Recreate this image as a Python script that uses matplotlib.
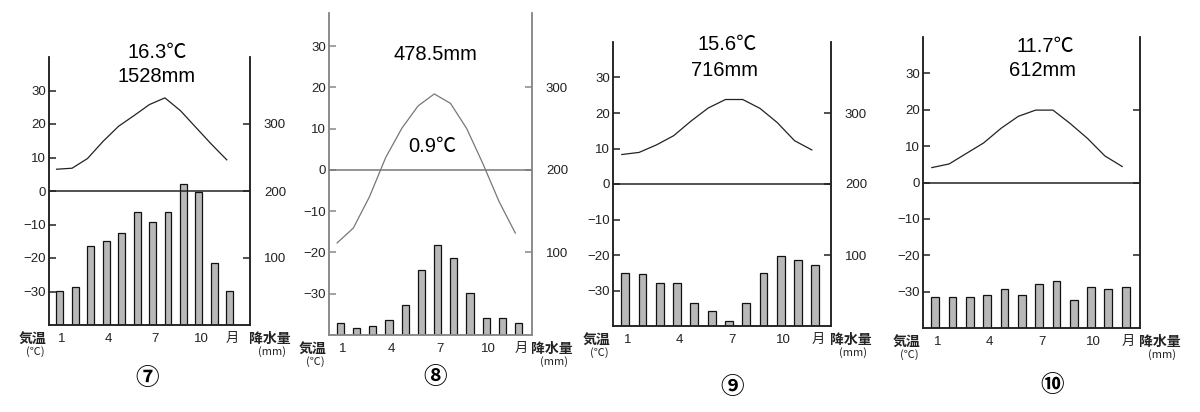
import matplotlib
matplotlib.use("Agg")
import matplotlib.pyplot as plt
import numpy as np

plt.rcParams['font.family'] = ['Liberation Sans', 'Noto Sans CJK JP', 'DejaVu Sans']
plt.rcParams['axes.unicode_minus'] = True

months = np.arange(1, 13)
month_ticks = [1, 4, 7, 10, 12]
month_labels = ['1', '4', '7', '10', '月']

temp7 = [6.5, 6.8, 9.7, 14.8, 19.3, 22.5, 25.8, 27.8, 24.0, 19.0, 14.0, 9.3]
prec7 = [51, 56, 118, 125, 138, 168, 154, 169, 211, 198, 92, 51]
temp8 = [-17.7, -14.1, -6.5, 3.0, 10.1, 15.5, 18.4, 16.1, 10.0, 1.5, -7.7, -15.3]
prec8 = [14, 8, 11, 18, 36, 79, 109, 93, 51, 20, 20, 15]
temp9 = [8.3, 8.9, 11.0, 13.6, 17.7, 21.4, 23.8, 23.8, 21.3, 17.3, 12.2, 9.6]
prec9 = [74, 73, 60, 60, 33, 21, 7, 33, 74, 99, 93, 86]
temp10 = [4.1, 5.1, 8.0, 10.9, 14.9, 18.2, 19.9, 19.9, 16.2, 12.1, 7.3, 4.4]
prec10 = [42, 42, 43, 46, 54, 46, 60, 65, 38, 57, 54, 56]

temp_ticks = [-30, -20, -10, 0, 10, 20, 30]
prec_ticks = [100, 200, 300]

panels = [
    dict(t=temp7, p=prec7, box=(49, 57, 250, 325), ylim=(-40, 40), xlim=(0.31, 13.3),
         col='#222222', spine='#222222', rlabels=True, num='⑦', num_xy=(147, 378),
         texts=[('16.3℃', 157, 53), ('1528mm', 157, 76)]),
    dict(t=temp8, p=prec8, box=(329, 13, 532, 335), ylim=(-40, 38), xlim=(0.30, 12.83),
         col='#777777', spine='#888888', rlabels=True, num='⑧', num_xy=(435, 377),
         texts=[('478.5mm', 435, 55), ('0.9℃', 432, 147)]),
    dict(t=temp9, p=prec9, box=(613, 42, 831, 326), ylim=(-40, 40), xlim=(0.29, 12.91),
         col='#222222', spine='#222222', rlabels=True, num='⑨', num_xy=(732, 387),
         texts=[('15.6℃', 727, 45), ('716mm', 725, 71)]),
    dict(t=temp10, p=prec10, box=(923, 37, 1140, 328), ylim=(-40, 40), xlim=(0.29, 12.83),
         col='#222222', spine='#222222', rlabels=False, num='⑩', num_xy=(1052, 385),
         texts=[('11.7℃', 1045, 46), ('612mm', 1043, 70)]),
]

W, H = 1200, 412
fig = plt.figure(figsize=(W / 100, H / 100), dpi=100)
cjk = ['Noto Sans CJK JP', 'DejaVu Sans']

for pn in panels:
    x0, y0, x1, y1 = pn['box']
    ax = fig.add_axes([x0 / W, 1 - y1 / H, (x1 - x0) / W, (y1 - y0) / H])
    ax2 = ax.twinx()
    lo, hi = pn['ylim']
    ax.set_ylim(lo, hi)
    ax2.set_ylim((lo + 40) * 5, (hi + 40) * 5)
    ax.set_xlim(*pn['xlim'])

    ax2.bar(months, pn['p'], width=0.45, color='#b8b8b8', edgecolor='#111111', linewidth=0.9, zorder=2)
    ax.axhline(0, color=pn['col'], lw=1.1, zorder=3)
    ax.plot(months - 0.2, pn['t'], color=pn['col'], lw=0.9, zorder=4)
    ax.set_zorder(ax2.get_zorder() + 1)
    ax.patch.set_visible(False)

    for a in (ax, ax2):
        a.spines['top'].set_visible(False)
        for s in ('left', 'right', 'bottom'):
            a.spines[s].set_color(pn['spine'])
            a.spines[s].set_linewidth(1.1)

    ax.set_yticks(temp_ticks)
    ax.set_yticklabels([str(v).replace('-', '−') for v in temp_ticks], fontsize=9.5, color='#222222')
    ax.tick_params(axis='y', direction='in', length=5, width=1.1, color=pn['spine'], pad=2)
    ax.set_xticks(np.array(month_ticks) + 0.15)
    ax.set_xticklabels(month_labels, fontsize=9.5, color='#222222')
    ax.tick_params(axis='x', length=0, pad=6)

    ax2.set_yticks(prec_ticks)
    if pn['rlabels']:
        ax2.set_yticklabels([str(v) for v in prec_ticks], fontsize=9.5, color='#222222')
    else:
        ax2.set_yticklabels([])
    ax2.tick_params(axis='y', direction='in', length=5, width=1.1, color=pn['spine'], pad=10)

    for txt, tx, ty in pn['texts']:
        fig.text(tx / W, 1 - ty / H, txt, fontsize=14.5, ha='center', va='center')

    fig.text(pn['num_xy'][0] / W, 1 - pn['num_xy'][1] / H, pn['num'], fontsize=17,
             ha='center', va='center', family=cjk, weight='bold')

    fig.text((x0 - 16) / W, 1 - (y1 + 14) / H, '気温', fontsize=10, ha='center', va='center',
             family=cjk, weight='bold', color='#222222')
    fig.text((x0 - 14) / W, 1 - (y1 + 27) / H, '(℃)', fontsize=8, ha='center', va='center',
             family=cjk, color='#222222')
    fig.text((x1 + 20) / W, 1 - (y1 + 14) / H, '降水量', fontsize=10, ha='center', va='center',
             family=cjk, weight='bold', color='#222222')
    fig.text((x1 + 22) / W, 1 - (y1 + 27) / H, '(mm)', fontsize=8, ha='center', va='center',
             family=cjk, color='#222222')

fig.savefig('out.png', dpi=100)
